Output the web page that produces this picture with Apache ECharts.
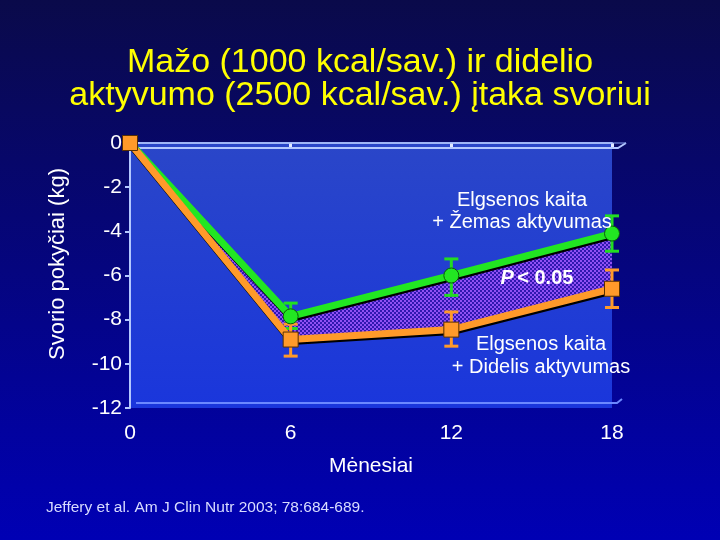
<!DOCTYPE html>
<html>
<head>
<meta charset="utf-8">
<script src="https://cdn.jsdelivr.net/npm/echarts@6/dist/echarts.min.js"></script>
<style>
  html, body { margin: 0; padding: 0; }
  #chart { width: 720px; height: 540px; }
</style>
</head>
<body>
<div id="chart"></div>
<script>
// duomenys
const months = [0, 6, 12, 18];
const lowActivity = [0, -7.85, -6.0, -4.1];     // Žemas aktyvumas
const lowErrLo = [0, -8.4, -6.9, -4.9];
const lowErrHi = [0, -7.25, -5.25, -3.3];
const highActivity = [0, -8.9, -8.45, -6.6];    // Didelis aktyvumas
const highErrLo = [0, -9.65, -9.2, -7.45];
const highErrHi = [0, -8.2, -7.65, -5.75];
const yTicks = [0, -2, -4, -6, -8, -10, -12];

const font = "Liberation Sans, Arial, sans-serif";

// taškuotas užpildas tarp linijų
function makePattern() {
  const c = document.createElement("canvas");
  c.width = 4;
  c.height = 4;
  const ctx = c.getContext("2d");
  ctx.fillStyle = "#3018b0";
  ctx.fillRect(0, 0, 4, 4);
  ctx.fillStyle = "#9050f4";
  ctx.fillRect(0, 0, 2, 2);
  ctx.fillRect(2, 2, 2, 2);
  return c;
}
const pattern = makePattern();

function errorBars(lo, hi, color) {
  return {
    type: "custom",
    z: 3,
    data: months.map((m, i) => [m, lo[i], hi[i]]).filter(d => d[0] !== 0),
    renderItem(params, api) {
      const x = api.value(0);
      const p1 = api.coord([x, api.value(1)]);
      const p2 = api.coord([x, api.value(2)]);
      const w = 7;
      const style = { stroke: color, lineWidth: 3 };
      return {
        type: "group",
        children: [
          { type: "line", shape: { x1: p1[0], y1: p1[1], x2: p2[0], y2: p2[1] }, style },
          { type: "line", shape: { x1: p1[0] - w, y1: p1[1], x2: p1[0] + w, y2: p1[1] }, style },
          { type: "line", shape: { x1: p2[0] - w, y1: p2[1], x2: p2[0] + w, y2: p2[1] }, style }
        ]
      };
    }
  };
}

// plotas tarp dviejų kreivių
const bandSeries = {
  type: "custom",
  z: 1,
  silent: true,
  data: months.slice(1).map((m, k) => [months[k], m, lowActivity[k], lowActivity[k + 1], highActivity[k], highActivity[k + 1]]),
  renderItem(params, api) {
    const x0 = api.value(0), x1 = api.value(1);
    const pts = [
      api.coord([x0, api.value(2)]),
      api.coord([x1, api.value(3)]),
      api.coord([x1, api.value(5)]),
      api.coord([x0, api.value(4)])
    ];
    return {
      type: "polygon",
      shape: { points: pts },
      style: { fill: { image: pattern, repeat: "repeat" }, stroke: null }
    };
  }
};

const chart = echarts.init(document.getElementById("chart"));

const option = {
  backgroundColor: {
    type: "linear", x: 0, y: 0, x2: 0, y2: 1,
    colorStops: [
      { offset: 0, color: "#0a0a4a" },
      { offset: 1, color: "#0000b4" }
    ]
  },
  title: {
    text: "Mažo (1000 kcal/sav.) ir didelio\naktyvumo (2500 kcal/sav.) įtaka svoriui",
    left: "center",
    top: 41,
    textStyle: {
      color: "#ffff00",
      fontFamily: font,
      fontSize: 34,
      fontWeight: "normal",
      lineHeight: 33
    }
  },
  grid: {
    left: 130,
    right: 108,
    top: 143,
    bottom: 132,
    show: true,
    borderWidth: 0,
    backgroundColor: {
      type: "linear", x: 0, y: 0, x2: 0, y2: 1,
      colorStops: [
        { offset: 0, color: "#2a46c8" },
        { offset: 1, color: "#1a36dc" }
      ]
    }
  },
  xAxis: {
    type: "value",
    min: 0,
    max: 18,
    interval: 6,
    name: "Mėnesiai",
    nameLocation: "middle",
    nameGap: 48,
    nameTextStyle: { color: "#ffffff", fontFamily: font, fontSize: 21 },
    axisLine: { lineStyle: { color: "#b4c8ff", width: 2 } },
    axisTick: { show: true, length: 6, lineStyle: { color: "#e0e8ff", width: 3 } },
    axisLabel: { color: "#ffffff", fontFamily: font, fontSize: 21, margin: 15 },
    splitLine: { show: false }
  },
  yAxis: {
    type: "value",
    min: -12,
    max: 0,
    interval: 2,
    axisLine: { show: true, lineStyle: { color: "#b4c8ff", width: 2 } },
    axisTick: { show: true, length: 5, lineStyle: { color: "#b4c8ff", width: 2 } },
    axisLabel: {
      color: "#ffffff",
      fontFamily: font,
      fontSize: 21,
      margin: 8,
      formatter: v => (yTicks.indexOf(v) >= 0 ? String(v) : "")
    },
    splitLine: { show: false }
  },
  graphic: [
    // 3D rėmelio kraštai
    { type: "polyline", shape: { points: [[136, 148], [618, 148], [626, 143]] }, style: { stroke: "#b4c8ff", lineWidth: 2, fill: null }, z: 1 },
    { type: "line", shape: { x1: 140, y1: 143, x2: 626, y2: 143 }, style: { stroke: "#8aa4f0", lineWidth: 1 }, z: 1 },
    { type: "polyline", shape: { points: [[136, 403], [617, 403], [622, 399]] }, style: { stroke: "#6c88ff", lineWidth: 2, fill: null }, z: 1 },
    {
      type: "text", x: 58, y: 264, rotation: Math.PI / 2, z: 10,
      style: { text: "Svorio pokyčiai (kg)", fill: "#ffffff", font: "22px " + font, align: "center", verticalAlign: "middle" }
    },
    {
      type: "text", x: 46, y: 500, z: 10,
      style: { text: "Jeffery et al. Am J Clin Nutr 2003; 78:684-689.", fill: "#d8dcff", font: "15.5px " + font }
    },
    {
      type: "text", x: 522, y: 189, z: 10,
      style: { text: "Elgsenos kaita\n+ Žemas aktyvumas", fill: "#ffffff", font: "20px " + font, align: "center", lineHeight: 22 }
    },
    {
      type: "text", x: 537, y: 268, z: 10,
      style: {
        text: "{p|P} {t|< 0.05}",
        align: "center",
        rich: {
          p: { fill: "#ffffff", font: "italic bold 20px " + font },
          t: { fill: "#ffffff", font: "bold 20px " + font }
        }
      }
    },
    {
      type: "text", x: 541, y: 333, z: 10,
      style: { text: "Elgsenos kaita\n+ Didelis aktyvumas", fill: "#ffffff", font: "20px " + font, align: "center", lineHeight: 23 }
    }
  ],
  series: [
    bandSeries,
    errorBars(lowErrLo, lowErrHi, "#22dd22"),
    {
      name: "Žemas aktyvumas",
      type: "line",
      data: months.map((m, i) => [m, lowActivity[i]]),
      symbol: "circle",
      symbolSize: 15,
      itemStyle: { color: "#22e622", borderColor: "#0a5a0a", borderWidth: 1 },
      lineStyle: { color: "#22e622", width: 7, shadowColor: "#000000", shadowOffsetX: 1, shadowOffsetY: 2, shadowBlur: 0 },
      z: 4
    },
    errorBars(highErrLo, highErrHi, "#ff9a2a"),
    {
      name: "Didelis aktyvumas",
      type: "line",
      data: months.map((m, i) => [m, highActivity[i]]),
      symbol: "rect",
      symbolSize: 15,
      itemStyle: { color: "#ff9a2a", borderColor: "#5a3000", borderWidth: 1 },
      lineStyle: { color: "#ff9a2a", width: 7, shadowColor: "#000000", shadowOffsetX: 1, shadowOffsetY: 2, shadowBlur: 0 },
      z: 5
    }
  ]
};

chart.setOption(option);
</script>
</body>
</html>
